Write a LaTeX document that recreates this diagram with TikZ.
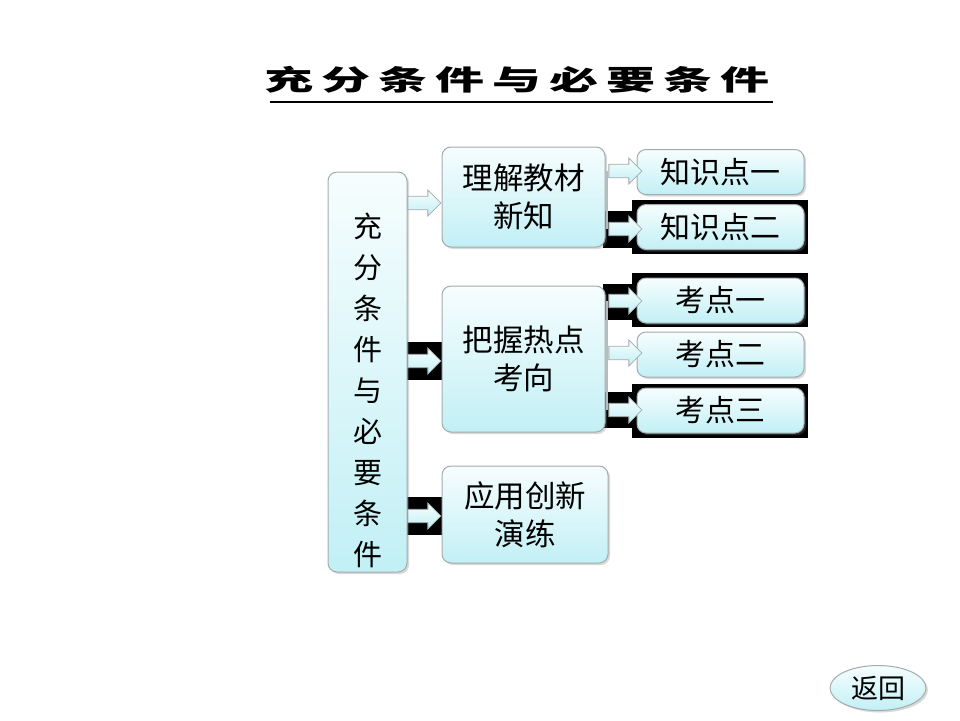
\documentclass[tikz,border=0pt]{standalone}
\usepackage{fontspec}
\setmainfont{Noto Sans CJK SC}
\usepackage{tikz}
\usetikzlibrary{shapes.arrows, shapes.geometric, shadows}
\definecolor{boxtop}{HTML}{F6FDFE}
\definecolor{boxbottom}{HTML}{C2F0F5}
\definecolor{boxborder}{HTML}{A3ABAD}
\definecolor{stemgray}{HTML}{B4BCBE}

\begin{document}
\begin{tikzpicture}[x=1pt, y=-1pt,
  box/.style={rectangle, rounded corners=9pt, draw=boxborder, line width=1pt,
               top color=boxtop, bottom color=boxbottom, inner sep=0pt, align=center,
               font=\fontsize{30.5}{38}\selectfont,
               drop shadow={shadow xshift=2pt, shadow yshift=-2pt, opacity=0.3}},
  sbox/.style={box, minimum width=167pt, minimum height=45pt, font=\fontsize{30}{30}\selectfont},
  blockarrow/.style={single arrow, draw=boxborder, line width=0.8pt,
               top color=boxtop, bottom color=boxbottom, inner sep=0pt, inner ysep=6pt,
               minimum height=33pt, minimum width=26pt, single arrow head extend=6pt},
  mask/.style={fill=black},
  stem/.style={draw=stemgray, line width=1.5pt}
]
  \useasboundingbox (0,0) rectangle (960,720);

  % title
  \foreach \c [count=\i] in {充,分,条,件,与,必,要,条,件}
    \node[font=\fontsize{28}{28}\selectfont\bfseries] (t\i) at (289+57*\i-57, 80) {\scalebox{1.75}[1]{\c}};
  \draw[line width=1.3pt] (270,102) -- (773,102);

  % black highlights
  \fill[mask] (400,342) rectangle (442,380);
  \fill[mask] (400,497) rectangle (442,535);
  \fill[mask] (603,211) rectangle (640,248);
  \fill[mask] (632,200) rectangle (808,254);
  \fill[mask] (603,284) rectangle (640,320);
  \fill[mask] (632,273) rectangle (808,327);
  \fill[mask] (603,392) rectangle (640,428);
  \fill[mask] (632,384) rectangle (808,438);

  \node[box, minimum width=79pt, minimum height=400pt] (main) at (367.5,372) {};
  \node[font=\fontsize{29}{41}\selectfont, align=center] (maintext) at (367.5,390)
    {充\\分\\条\\件\\与\\必\\要\\条\\件};
  \node[box, minimum width=163pt, minimum height=100pt] (learn) at (523.5,197) {理解教材\\新知};
  \node[box, minimum width=163pt, minimum height=146pt] (hold) at (523.5,359) {把握热点\\考向};
  \node[box, minimum width=166pt, minimum height=97pt] (apply) at (525,514.5) {应用创新\\演练};

  \node[sbox] (k1) at (720.5,172) {知识点一};
  \node[sbox] (k2) at (720.5,227) {知识点二};
  \node[sbox] (p1) at (720.5,300.5) {考点一};
  \node[sbox] (p2) at (720.5,354.5) {考点二};
  \node[sbox] (p3) at (720.5,410.5) {考点三};

  \node[blockarrow] (a0) at (421,203) {};
  \node[blockarrow] (a1) at (421,361) {};
  \node[blockarrow] (a2) at (421,516) {};

  \draw[stem] (607,171) -- (607,229);
  \draw[stem] (607,301) -- (607,410);
  \node[blockarrow] (ak1) at (622,171) {};
  \node[blockarrow] (ak2) at (622,229) {};
  \node[blockarrow] (ap1) at (622,301) {};
  \node[blockarrow] (ap2) at (622,353) {};
  \node[blockarrow] (ap3) at (622,410) {};

  \node[ellipse, draw=boxborder, line width=1pt, top color=boxtop, bottom color=boxbottom,
        minimum width=96pt, minimum height=45pt, inner sep=0pt,
        font=\fontsize{27}{27}\selectfont,
        drop shadow={shadow xshift=2pt, shadow yshift=-2pt, opacity=0.3}] (back) at (878,688) {返回};
\end{tikzpicture}
\end{document}
